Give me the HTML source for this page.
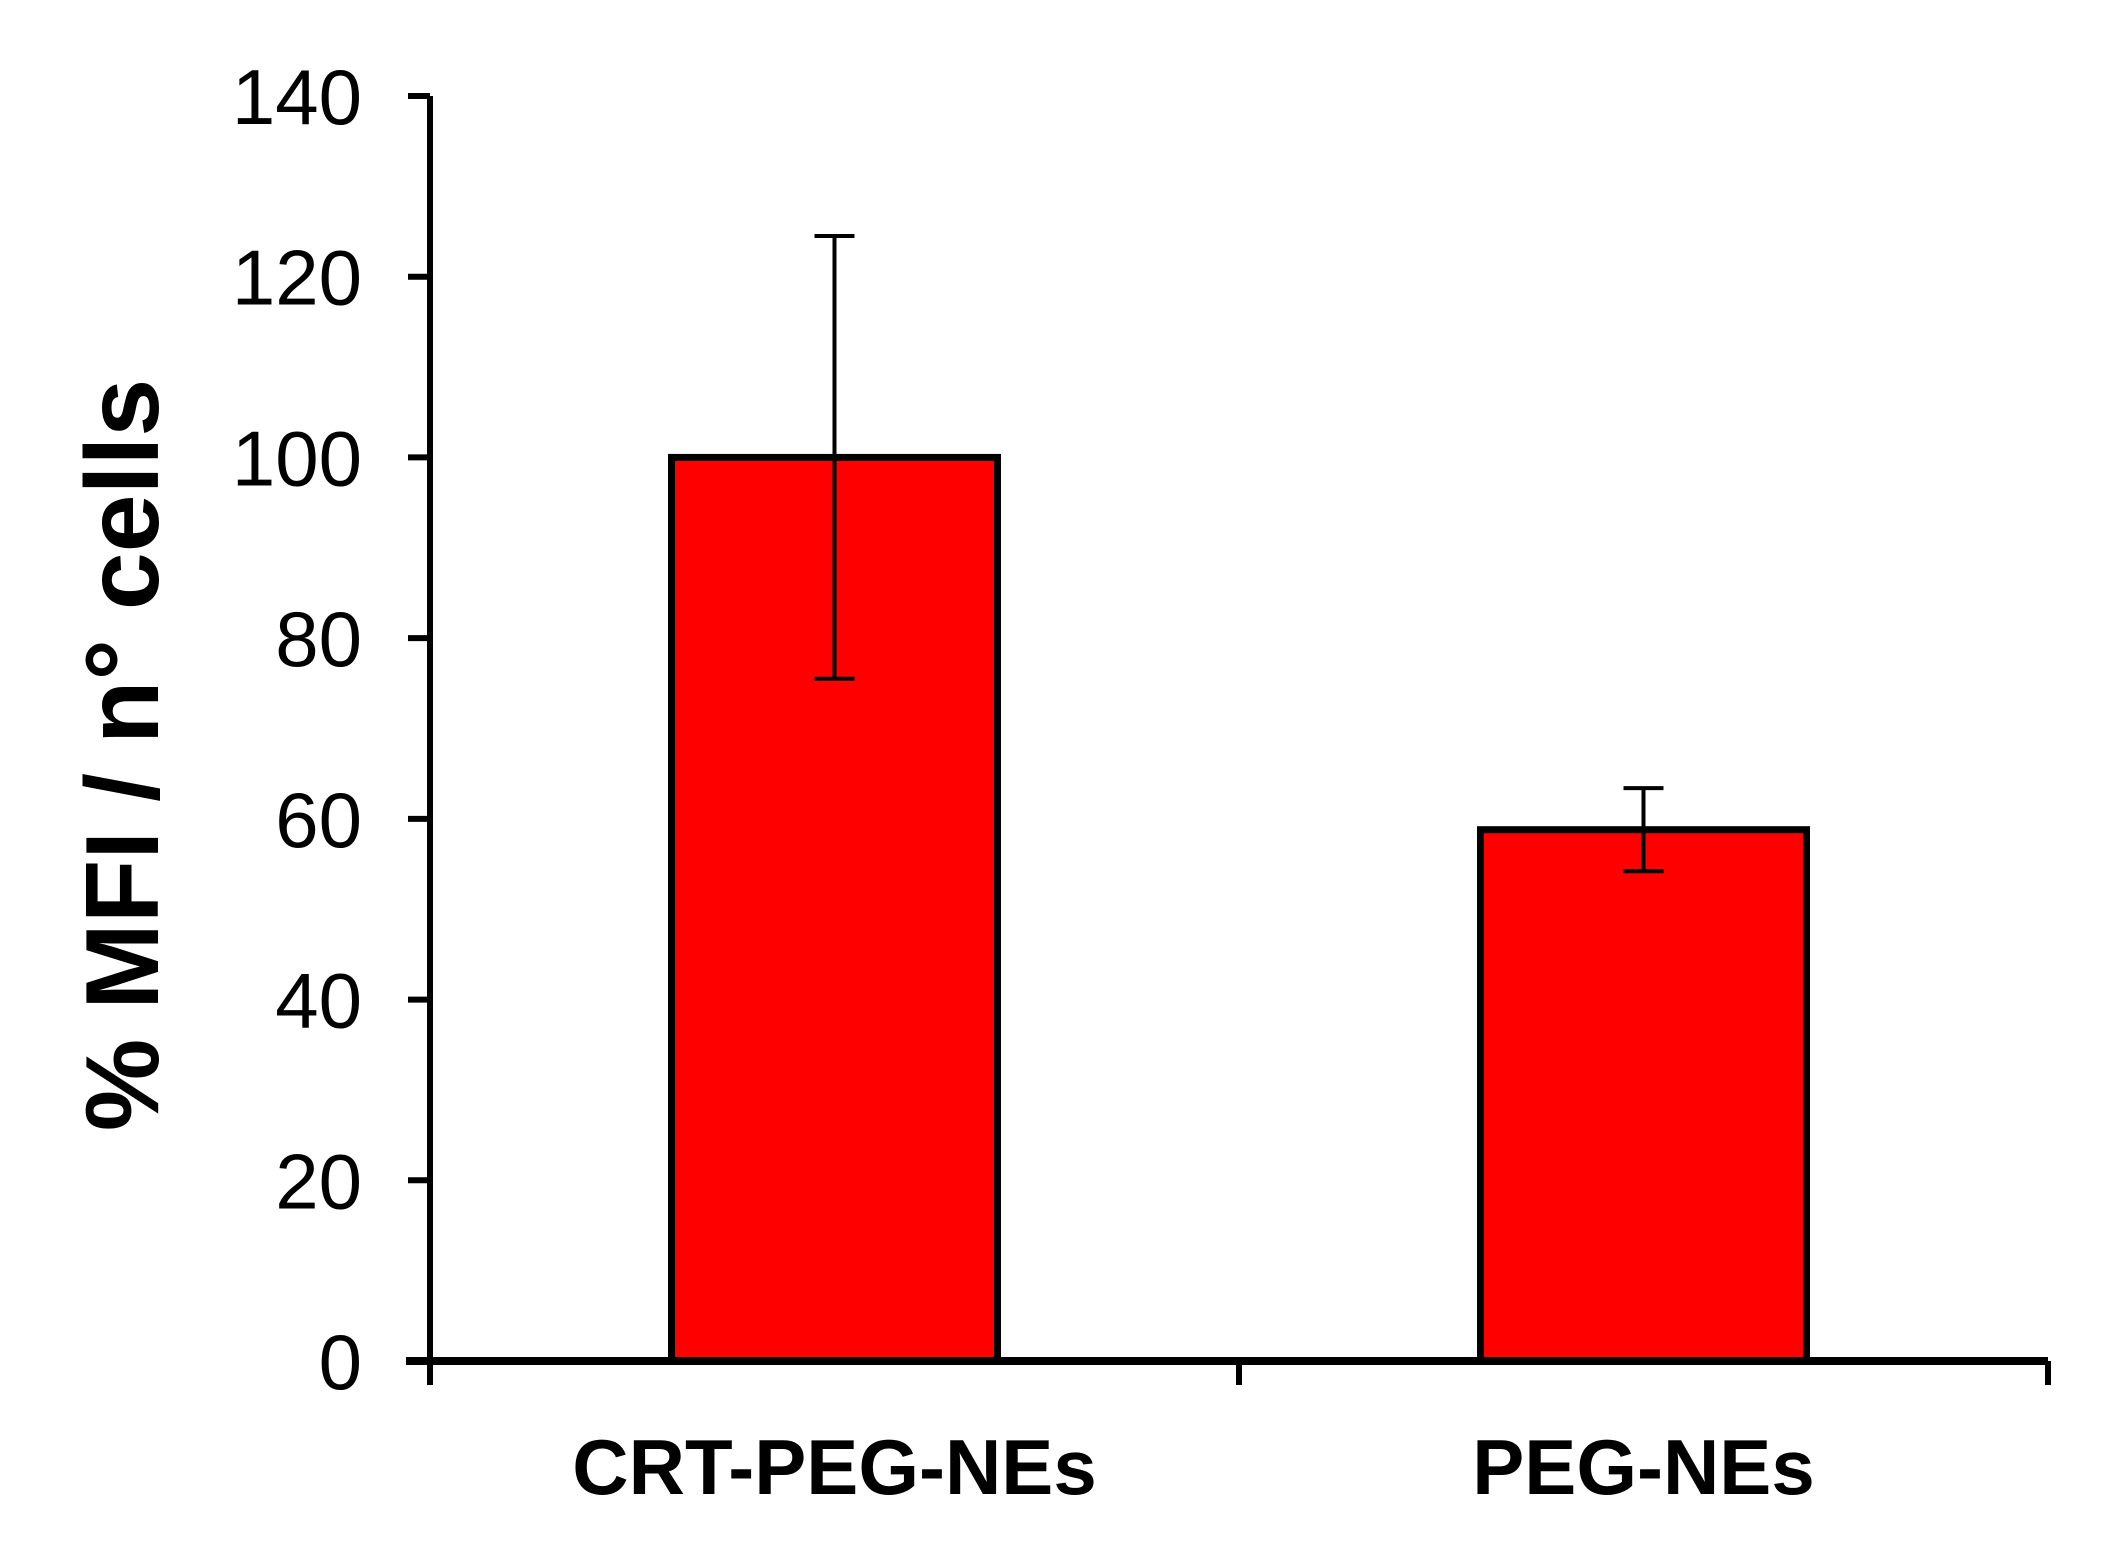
<!DOCTYPE html>
<html><head><meta charset="utf-8"><style>
html,body{margin:0;padding:0;background:#fff;}
svg{display:block;font-family:"Liberation Sans",Arial,sans-serif;}
</style></head><body>
<svg id="chart" width="2114" height="1545" viewBox="0 0 2114 1545"></svg>
<script>
const categories = ["CRT-PEG-NEs", "PEG-NEs"];
const values = [100, 58.8];
const errors = [24.5, 4.6];
const yTicks = [0, 20, 40, 60, 80, 100, 120, 140];

const NS = "http://www.w3.org/2000/svg";
const svg = document.getElementById("chart");
const X0 = 430, X1 = 2048, Y0 = 1361, Y1 = 96, YMAX = 140;
const yScale = v => Y0 - (v / YMAX) * (Y0 - Y1);
const band = (X1 - X0) / categories.length;
const xCenter = i => X0 + band * (i + 0.5);
const barW = 326;

function mk(tag, attrs) {
  const e = document.createElementNS(NS, tag);
  for (const k in attrs) e.setAttribute(k, attrs[k]);
  svg.appendChild(e);
  return e;
}

categories.forEach((c, i) => {
  const cx = xCenter(i);
  const top = yScale(values[i]);
  const r = mk("rect", {x: cx - barW / 2, y: top, width: barW, height: Y0 - top, fill: "#ff0000", stroke: "#000", "stroke-width": 7});
  
  
});

const ya = mk("line", {x1: X0, y1: Y1, x2: X0, y2: Y0 + 24, stroke: "#000", "stroke-width": 6});


const xa = mk("line", {x1: X0 - 24, y1: Y0, x2: X1, y2: Y0, stroke: "#000", "stroke-width": 8});


for (let i = 1; i <= categories.length; i++) {
  const t = mk("line", {x1: X0 + band * i, y1: Y0, x2: X0 + band * i, y2: Y0 + 24, stroke: "#000", "stroke-width": 6});
  
  
}

yTicks.forEach(v => {
  const y = yScale(v);
  const t = mk("line", {x1: X0 - 22, y1: y, x2: X0, y2: y, stroke: "#000", "stroke-width": 6});
  
  
  const tx = mk("text", {x: 362, y: y + 28, "text-anchor": "end", "font-size": 78, fill: "#000"});
  tx.textContent = v;
  
  
});

categories.forEach((c, i) => {
  const cx = xCenter(i);
  const hi = yScale(values[i] + errors[i]), lo = yScale(values[i] - errors[i]);
  const g = document.createElementNS(NS, "g");
  
  
  svg.appendChild(g);
  [[cx, hi, cx, lo], [cx - 20, hi, cx + 20, hi], [cx - 20, lo, cx + 20, lo]].forEach(p => {
    const l = document.createElementNS(NS, "line");
    l.setAttribute("x1", p[0]); l.setAttribute("y1", p[1]);
    l.setAttribute("x2", p[2]); l.setAttribute("y2", p[3]);
    l.setAttribute("stroke", "#000"); l.setAttribute("stroke-width", 4);
    g.appendChild(l);
  });
});

categories.forEach((c, i) => {
  const t = mk("text", {x: xCenter(i), y: 1494, "text-anchor": "middle", "font-size": 78, "font-weight": "bold", fill: "#000"});
  t.textContent = c;
  
  
});

const yt = mk("text", {x: 0, y: 0, "text-anchor": "middle", "font-size": 104, "font-weight": "bold", fill: "#000", transform: "translate(158,755) rotate(-90)"});
yt.textContent = "% MFI / n° cells";


</script>
</body></html>
